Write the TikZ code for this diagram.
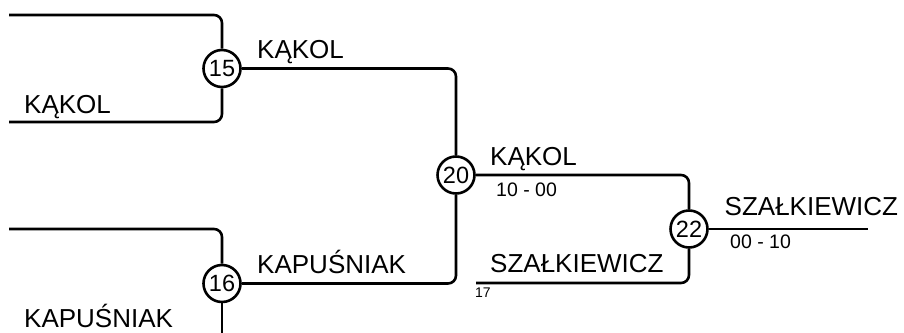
\documentclass[tikz,border=0pt]{standalone}
\usepackage{fontspec}
\setmainfont{Liberation Sans}
\usetikzlibrary{positioning,calc}

\tikzset{
    link/.style={line width=2.6pt, rounded corners=8pt},
    game/.style={circle, draw, line width=2.6pt, fill=white, minimum size=37pt, inner sep=0pt, font=\fontsize{23.5}{23.5}\selectfont},
    player/.style={anchor=base west, inner sep=0pt, font=\fontsize{26}{26}\selectfont},
    score/.style={anchor=base west, inner sep=0pt, font=\fontsize{19.5}{19.5}\selectfont},
    seed/.style={anchor=base west, inner sep=0pt, font=\fontsize{14}{14}\selectfont}
}

\begin{document}
\begin{tikzpicture}[x=1pt, y=-1pt]
        \useasboundingbox (0,0) rectangle (904,332);

        % Mecze
        \node[game] (m15) at (222,68.5) {15};
        \node[game] (m16) at (222,283.5) {16};
        \node[game] (m20) at (456,175) {20};
        \node[game] (m22) at (689,229) {22};

        % Wolne konce
        \coordinate (a1) at (9,15);
        \coordinate (a2) at (9,122);
        \coordinate (b1) at (9,229);
        \coordinate (b2) at (222,345);
        \coordinate (c1) at (476,283);
        \coordinate (d1) at (868,229);

        % Linie drabinki
        \draw[link] (a1) -| (m15);
        \draw[link] (a2) -| (m15);
        \draw[link] (b1) -| (m16);
        \draw[link] (m16) -- (b2);
        \draw[link] (m15) -| (m20);
        \draw[link] (m16) -| (m20);
        \draw[link] (m20) -| (m22);
        \draw[link] (c1) -| (m22);
        \draw[link] (m22) -- (d1);

        % Zawodnicy
        \node[player] (p1) at (24,113) {KĄKOL};
        \node[player] (p2) at (24,327) {KAPUŚNIAK};
        \node[player] (w15) at (257,58) {KĄKOL};
        \node[player] (w16) at (257,273) {KAPUŚNIAK};
        \node[player] (w20) at (490,165.5) {KĄKOL};
        \node[player] (p17) at (490,272) {SZAŁKIEWICZ};
        \node[player] (w22) at (724.5,215.5) {SZAŁKIEWICZ};

        % Wyniki
        \node[score] (s20) at (496,196) {10 - 00};
        \node[score] (s22) at (730,248.5) {00 - 10};
        \node[seed] (n17) at (475,297) {17};

    \end{tikzpicture}
\end{document}
